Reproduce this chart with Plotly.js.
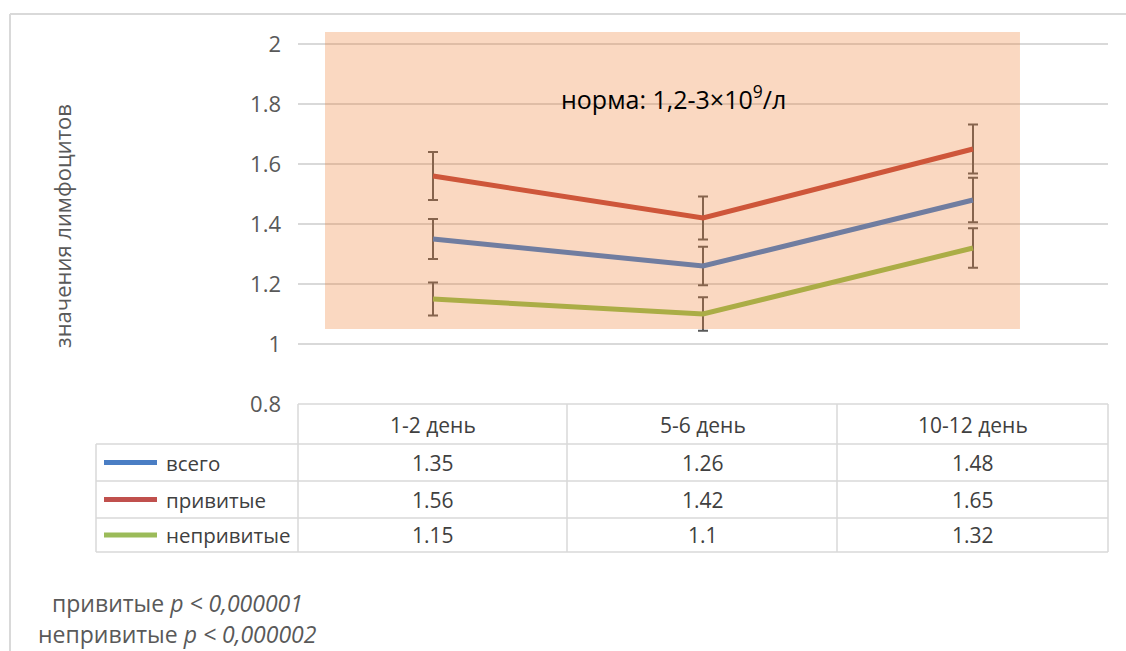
<!DOCTYPE html>
<html>
<head>
<meta charset="utf-8">
<script src="https://cdn.plot.ly/plotly-3.0.1.min.js"></script>
<style>html,body{margin:0;padding:0;background:#fff;}#chart{width:1126px;height:651px;}</style>
</head>
<body>
<div id="chart"></div>
<script>
// ---- data ----
const categories = ['1-2 день', '5-6 день', '10-12 день'];
const seriesNames = ['всего', 'привитые', 'непривитые'];
const vsego = [1.35, 1.26, 1.48];
const privitye = [1.56, 1.42, 1.65];
const neprivitye = [1.15, 1.1, 1.32];
const errVsego = [0.067, 0.064, 0.074];
const errPrivitye = [0.08, 0.072, 0.082];
const errNeprivitye = [0.055, 0.056, 0.066];
const yTicks = [0.8, 1, 1.2, 1.4, 1.6, 1.8, 2];
const yTickText = ['0.8', '1', '1.2', '1.4', '1.6', '1.8', '2'];
const normLow = 1.05, normHigh = 2.04;
const normText = 'норма: 1,2-3×10<sup>9</sup>/л';
const yTitle = 'значения лимфоцитов';
const pNotes = ['привитые <i>p &lt; 0,000001</i>', 'непривитые <i>p &lt; 0,000002</i>'];

// ---- styles ----
const seriesValues = [vsego, privitye, neprivitye];
const seriesErrors = [errVsego, errPrivitye, errNeprivitye];
const lineColors = ['#3a7dd0', '#c0463e', '#8fc24f'];
const legendColors = ['#4a7ec4', '#c0504d', '#9bbb59'];
const W = 1126, H = 651;
const mL = 298, mR = 18, mT = 32, mB = 247;
const plotW = W - mL - mR, plotH = H - mT - mB;
const px = x => (x - mL) / plotW;          // pixel x -> paper
const py = y => (H - mB - y) / plotH;      // pixel y -> paper
const gridC = '#d9d9d9';
const textC = '#595959';
const font = 'Open Sans, Noto Sans, sans-serif';

const traces = seriesValues.map((vals, i) => ({
  type: 'scatter', mode: 'lines', name: seriesNames[i],
  x: categories, y: vals,
  line: {color: lineColors[i], width: 5},
  error_y: {type: 'data', array: seriesErrors[i], visible: true, color: '#595959', thickness: 2, width: 5},
  showlegend: false, hoverinfo: 'x+y+name'
}));

const shapes = [];
// norm region (semi-transparent, above data)
shapes.push({type: 'rect', xref: 'x', yref: 'y', x0: -0.4, x1: 2.174, y0: normLow, y1: normHigh,
  fillcolor: 'rgba(237,125,49,0.3)', line: {width: 0}, layer: 'above'});
// outer frame
shapes.push({type: 'line', xref: 'paper', yref: 'paper', x0: px(10), x1: px(W), y0: py(14), y1: py(14), line: {color: gridC, width: 2}});
shapes.push({type: 'line', xref: 'paper', yref: 'paper', x0: px(10), x1: px(10), y0: py(14), y1: py(H), line: {color: gridC, width: 2}});
// data table grid
const colX = [298, 567, 837, 1108];
const rowY = [404, 444, 481, 518, 552];
const tl = (x0, y0, x1, y1) => shapes.push({type: 'line', xref: 'paper', yref: 'paper',
  x0: px(x0), x1: px(x1), y0: py(y0), y1: py(y1), line: {color: gridC, width: 1.5}});
tl(298, 404, 1108, 404);
for (let r = 1; r < rowY.length; r++) tl(96, rowY[r], 1108, rowY[r]);
colX.forEach(x => tl(x, 404, x, 552));
tl(96, 444, 96, 552);
// legend keys
seriesNames.forEach((n, i) => {
  const yc = (rowY[i + 1] + rowY[i + 2]) / 2;
  shapes.push({type: 'line', xref: 'paper', yref: 'paper', x0: px(104), x1: px(157), y0: py(yc), y1: py(yc),
    line: {color: legendColors[i], width: 5}});
});

const annotations = [];
// y axis title
annotations.push({text: yTitle, xref: 'paper', yref: 'paper', x: px(62), y: py(226), showarrow: false,
  textangle: -90, font: {family: font, size: 22, color: textC}, xanchor: 'center', yanchor: 'middle'});
// norm text
annotations.push({text: normText, xref: 'paper', yref: 'paper', x: px(673), y: py(98), showarrow: false,
  font: {family: font, size: 25, color: '#000'}, xanchor: 'center', yanchor: 'middle'});
// table header
categories.forEach((c, j) => {
  annotations.push({text: c, xref: 'x', yref: 'paper', x: j, y: py(425), showarrow: false,
    font: {family: font, size: 21, color: '#404040'}, xanchor: 'center', yanchor: 'middle'});
});
// table rows
seriesNames.forEach((n, i) => {
  const yc = (rowY[i + 1] + rowY[i + 2]) / 2;
  annotations.push({text: n, xref: 'paper', yref: 'paper', x: px(164), y: py(yc), showarrow: false,
    font: {family: font, size: 20.5, color: '#404040'}, xanchor: 'left', yanchor: 'middle'});
  seriesValues[i].forEach((v, j) => {
    annotations.push({text: String(v), xref: 'x', yref: 'paper', x: j, y: py(yc), showarrow: false,
      font: {family: font, size: 21, color: '#404040'}, xanchor: 'center', yanchor: 'middle'});
  });
});
// p-value notes
pNotes.forEach((t, i) => {
  annotations.push({text: t, xref: 'paper', yref: 'paper', x: px(177), y: py(603 + i * 31), showarrow: false,
    font: {family: font, size: 23, color: textC}, xanchor: 'center', yanchor: 'middle'});
});

const layout = {
  width: W, height: H,
  margin: {l: mL, r: mR, t: mT, b: mB},
  paper_bgcolor: '#fff', plot_bgcolor: '#fff',
  showlegend: false,
  xaxis: {type: 'category', range: [-0.5, 2.5], showgrid: false, zeroline: false, showline: false,
    showticklabels: false, ticks: ''},
  yaxis: {range: [0.8, 2.04], tickvals: yTicks, ticktext: yTickText, showgrid: true, gridcolor: gridC,
    gridwidth: 1.5, zeroline: false, showline: false, ticks: '', ticklabelstandoff: 16,
    tickfont: {family: font, size: 22, color: textC}},
  shapes: shapes,
  annotations: annotations
};

Plotly.newPlot('chart', traces, layout, {displayModeBar: false, staticPlot: true});
</script>
</body>
</html>
